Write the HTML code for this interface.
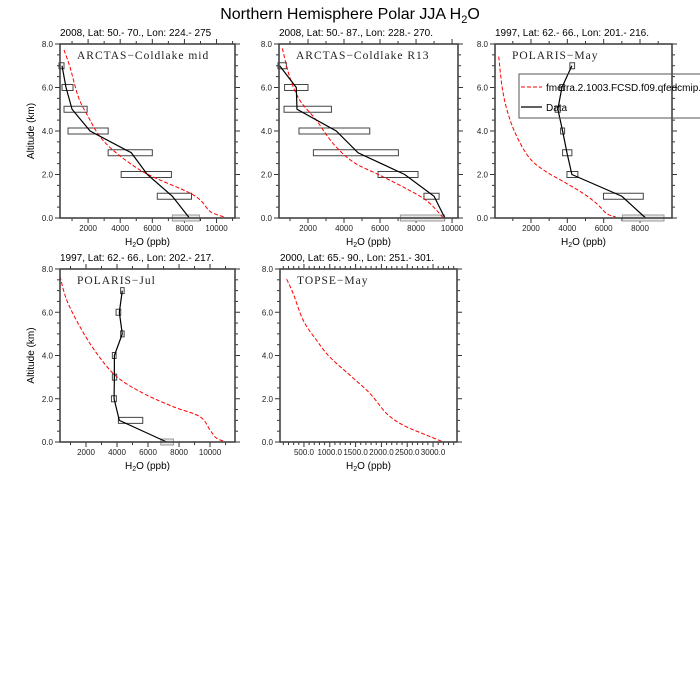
<!DOCTYPE html>
<html><head><meta charset="utf-8"><style>
html,body{margin:0;padding:0;background:#fff;}
svg{display:block;font-family:"Liberation Sans",sans-serif;}
</style></head><body>
<svg id="chart" width="700" height="700" viewBox="0 0 700 700">
<text x="350" y="19" text-anchor="middle" font-size="16">Northern Hemisphere Polar JJA H<tspan font-size="11" dy="4">2</tspan><tspan dy="-4">O</tspan></text>
</svg>
<script>
// ---- data ----
const altitudes = [7,6,5,4,3,2,1,0];
const p1Data = [375,625,1000,2125,4690,5690,7250,8310];
const p1BoxLo = [190,375,500,750,3250,4060,6310,7250];
const p1BoxHi = [500,1060,1940,3250,6000,7190,8440,8940];
const p1ModelAlt = [7.73,6.93,5.55,4.64,3.73,2.97,2.2,1.74,1.21,0.82,0.29,0.03];
const p1ModelVal = [500,875,1400,2020,2750,3790,5250,6500,8170,9000,9625,10560];

const p2Data = [426,1350,1390,3570,4780,7370,9000,9600];
const p2BoxLo = [333,700,670,1500,2300,5890,8440,7130];
const p2BoxHi = [800,2000,3300,5430,7020,8110,9280,9590];
const p2ModelAlt = [7.8,6.5,5.42,4.5,3.43,2.58,1.97,1.35,0.81,0.2,0];
const p2ModelVal = [574,980,1540,2460,3390,4500,5980,7460,8570,9310,9500];

const p3Data = [4250,3700,3480,3740,3980,4250,7000,8310];
const p3BoxLo = [4140,3580,3330,3630,3740,3980,5990,7030];
const p3BoxHi = [4400,3850,3610,3850,4250,4580,8180,9320];
const p3ModelAlt = [7.42,6.04,4.96,3.89,2.81,2.2,1.58,1.12,0.66,0.2,0.05];
const p3ModelVal = [226,409,683,1140,1870,2700,3980,4890,5620,6170,6660];

const p4Data = [4340,4150,4340,3830,3830,3810,4150,7200];
const p4BoxLo = [4230,3940,4230,3700,3700,3640,4090,6820];
const p4BoxHi = [4460,4240,4460,3940,3980,3960,5660,7640];
const p4ModelAlt = [7.66,6.57,5.33,4.1,3.02,2.25,1.63,1.17,0.55,0.17,0.03];
const p4ModelVal = [323,753,1610,2690,3980,5700,7630,9350,10000,10430,10970];

const p5ModelAlt = [7.53,6.85,5.62,4.7,3.93,3.09,2.24,1.32,0.78,0.32,0];
const p5ModelVal = [165,294,487,745,1000,1390,1780,2100,2420,2870,3200];

const p1Ticks = [2000,4000,6000,8000,10000];
const p2Ticks = [2000,4000,6000,8000,10000];
const p3Ticks = [2000,4000,6000,8000];
const p4Ticks = [2000,4000,6000,8000,10000];
const p5Ticks = [500,1000,1500,2000,2500,3000];
const yTicks = [0,2,4,6,8];

const NS="http://www.w3.org/2000/svg";
const svg=document.getElementById('chart');
function mk(tag,attrs,parent){const e=document.createElementNS(NS,tag);for(const k in attrs)e.setAttribute(k,attrs[k]);(parent||svg).appendChild(e);return e;}
function smooth(pts){
  let d='M'+pts[0][0]+','+pts[0][1];
  for(let i=0;i<pts.length-1;i++){
    const p0=pts[Math.max(i-1,0)],p1=pts[i],p2=pts[i+1],p3=pts[Math.min(i+2,pts.length-1)];
    const c1=[p1[0]+(p2[0]-p0[0])/6,p1[1]+(p2[1]-p0[1])/6];
    const c2=[p2[0]-(p3[0]-p1[0])/6,p2[1]-(p3[1]-p1[1])/6];
    d+=' C'+c1[0]+','+c1[1]+' '+c2[0]+','+c2[1]+' '+p2[0]+','+p2[1];
  }
  return d;
}

function panel(cfg){
  const g=mk('g',{});
  
  
  const L=cfg.L,R=cfg.R,T=cfg.T,B=cfg.B;
  const sx=v=>L+(v-cfg.xmin)/(cfg.xmax-cfg.xmin)*(R-L);
  const sy=a=>B-a/8*(B-T);
  const st=mk('text',{x:L,y:T-8,'font-size':10},g);st.textContent=cfg.sub;
  
  
  for(let a=0;a<=8.001;a+=0.5){
    const major=Math.abs(a-Math.round(a/2)*2)<1e-6;const len=major?5:3;
    mk('line',{x1:L,x2:L-len,y1:sy(a),y2:sy(a),stroke:'#333','stroke-width':1},g);
    mk('line',{x1:R,x2:R+len,y1:sy(a),y2:sy(a),stroke:'#333','stroke-width':1},g);
  }
  yTicks.forEach(a=>{const t=mk('text',{x:L-7,y:sy(a)+3,'font-size':8,'text-anchor':'end',fill:'#222'},g);t.textContent=a.toFixed(1);
    
    });
  const step=cfg.minor;
  for(let v=Math.ceil(cfg.xmin/step)*step;v<=cfg.xmax;v+=step){
    const major=cfg.ticks.indexOf(v)>=0;const len=major?5:3;
    mk('line',{x1:sx(v),x2:sx(v),y1:B,y2:B+len,stroke:'#333','stroke-width':1},g);
    mk('line',{x1:sx(v),x2:sx(v),y1:T,y2:T-len,stroke:'#333','stroke-width':1},g);
  }
  cfg.ticks.forEach(v=>{const t=mk('text',{x:sx(v),y:B+13,'font-size':8,'text-anchor':'middle',fill:'#222'},g);t.textContent=cfg.fmt?v.toFixed(1):String(v);
    
    });
  const xt=mk('text',{x:(L+R)/2,y:B+27,'font-size':10,'text-anchor':'middle'},g);
  xt.innerHTML='H<tspan font-size="7" dy="2">2</tspan><tspan dy="-2">O (ppb)</tspan>';
  
  
  if(cfg.ytitle){const yt=mk('text',{x:0,y:0,'font-size':10,'text-anchor':'middle',transform:`translate(${L-26},${(T+B)/2}) rotate(-90)`},g);yt.textContent='Altitude (km)';
    
    }
  if(cfg.lo){cfg.lo.forEach((lo,i)=>{const a=altitudes[i];
    const r=mk('rect',{x:sx(lo),y:sy(a)-3,width:Math.max(sx(cfg.hi[i])-sx(lo),3),height:6,fill:i===7?'#e8e8e8':'none',stroke:i===7?'#999':'#444','stroke-width':1},g);
    
    });}
  const mpts=cfg.mv.map((v,i)=>[sx(v),sy(cfg.ma[i])]);
  const ml=mk('path',{d:smooth(mpts),fill:'none',stroke:'#f00','stroke-width':1,'stroke-dasharray':'4,2'},g);
  
  
  if(cfg.data){const dp=cfg.data.map((v,i)=>sx(v)+','+sy(altitudes[i])).join(' ');
    const dl=mk('polyline',{points:dp,fill:'none',stroke:'#000','stroke-width':1.2},g);
    
    }
  const fr=mk('rect',{x:L,y:T,width:R-L,height:B-T,fill:'none',stroke:'#444','stroke-width':1.6},g);
  
  
  const lab=mk('text',{x:L+17,y:T+15,'font-size':11.5,'font-family':'"Liberation Serif",serif',fill:'#222','letter-spacing':'1'},g);
  lab.textContent=cfg.label;
  
  
  return g;
}
panel({name:'panel-arctas-mid',L:60,R:235,T:44,B:218,xmin:250,xmax:11150,ticks:p1Ticks,minor:1000,sub:'2008, Lat:  50.- 70., Lon: 224.- 275',label:'ARCTAS\u2212Coldlake mid',ytitle:true,data:p1Data,lo:p1BoxLo,hi:p1BoxHi,ma:p1ModelAlt,mv:p1ModelVal});
panel({name:'panel-arctas-r13',L:279,R:458,T:44,B:218,xmin:390,xmax:10330,ticks:p2Ticks,minor:1000,sub:'2008, Lat:  50.- 87., Lon: 228.- 270.',label:'ARCTAS\u2212Coldlake R13',data:p2Data,lo:p2BoxLo,hi:p2BoxHi,ma:p2ModelAlt,mv:p2ModelVal});
panel({name:'panel-polaris-may',L:495,R:672,T:44,B:218,xmin:20,xmax:9760,ticks:p3Ticks,minor:1000,sub:'1997, Lat: 62.- 66., Lon: 201.- 216.',label:'POLARIS\u2212May',data:p3Data,lo:p3BoxLo,hi:p3BoxHi,ma:p3ModelAlt,mv:p3ModelVal});
panel({name:'panel-polaris-jul',L:60,R:235,T:269,B:442,xmin:323,xmax:11610,ticks:p4Ticks,minor:1000,sub:'1997, Lat: 62.- 66., Lon: 202.- 217.',label:'POLARIS\u2212Jul',ytitle:true,data:p4Data,lo:p4BoxLo,hi:p4BoxHi,ma:p4ModelAlt,mv:p4ModelVal});
panel({name:'panel-topse-may',L:280,R:457,T:269,B:442,xmin:36,xmax:3464,ticks:p5Ticks,minor:100,fmt:true,sub:'2000, Lat: 65.- 90., Lon: 251.- 301.',label:'TOPSE\u2212May',ma:p5ModelAlt,mv:p5ModelVal});
const lg=mk('g',{});


mk('rect',{x:519,y:74,width:190,height:44,fill:'none',stroke:'#555','stroke-width':1},lg);
mk('line',{x1:521,x2:542,y1:87,y2:87,stroke:'#f00','stroke-width':1,'stroke-dasharray':'4,2'},lg);
const l1=mk('text',{x:546,y:91,'font-size':10},lg);l1.textContent='fmerra.2.1003.FCSD.f09.qfedcmip.';


mk('line',{x1:521,x2:542,y1:107,y2:107,stroke:'#000','stroke-width':1.2},lg);
const l2=mk('text',{x:546,y:111,'font-size':10},lg);l2.textContent='Data';


</script>
</body></html>
